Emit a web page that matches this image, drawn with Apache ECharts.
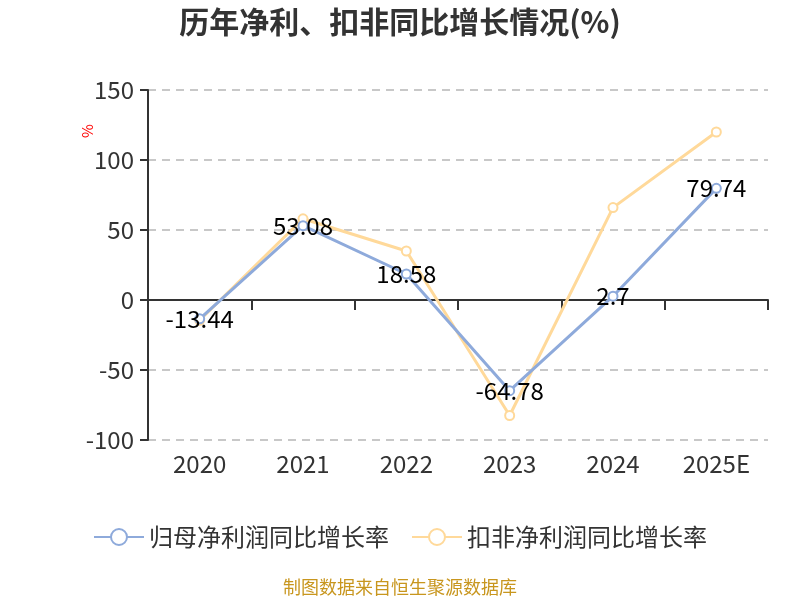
<!DOCTYPE html>
<html><head><meta charset="utf-8">
<script src="https://cdn.jsdelivr.net/npm/echarts@6/dist/echarts.min.js"></script>
<style>html,body{margin:0;padding:0;background:#fff}#c{width:800px;height:600px}</style>
</head><body><div id="c"></div>
<script>
var categories = ['2020','2021','2022','2023','2024','2025E'];
var netProfitGrowth = [-13.44, 53.08, 18.58, -64.78, 2.7, 79.74];
var deductedGrowth = [-14.5, 58, 35, -82.5, 66, 120];
var yTicks = {min: -100, max: 150, interval: 50};
var seriesNames = ['归母净利润同比增长率', '扣非净利润同比增长率'];
var FONT = '"Noto Sans CJK SC", "Noto Sans", sans-serif';
var chart = echarts.init(document.getElementById('c'));
chart.setOption({
  backgroundColor: '#fff',
  textStyle: {fontFamily: FONT},
  title: {text: '历年净利、扣非同比增长情况(%)', left: 'center', top: 2,
    textStyle: {fontSize: 30, fontWeight: 'bold', color: '#333', fontFamily: FONT}},
  legend: {bottom: 46, itemWidth: 50, itemHeight: 20, itemGap: 22,
    textStyle: {fontSize: 24, color: '#333', fontFamily: FONT},
    data: seriesNames},
  grid: {left: 148, right: 32, top: 90, bottom: 160},
  xAxis: [{
    type: 'category', data: categories, position: 'bottom',
    axisLine: {show: false, onZero: false}, axisTick: {show: false},
    axisLabel: {fontSize: 24, color: '#333', margin: 12, fontFamily: FONT}
  }, {
    type: 'category', data: categories, position: 'bottom',
    axisLine: {show: true, onZero: true, lineStyle: {color: '#333', width: 2}},
    axisTick: {show: true, length: 10, lineStyle: {color: '#333', width: 2}},
    axisLabel: {show: false}
  }],
  yAxis: {
    type: 'value', min: yTicks.min, max: yTicks.max, interval: yTicks.interval,
    axisLine: {show: true, lineStyle: {color: '#333', width: 2}},
    axisTick: {show: true, length: 8, lineStyle: {color: '#333', width: 2}},
    axisLabel: {fontSize: 24, color: '#333', margin: 14, fontFamily: FONT},
    splitLine: {lineStyle: {type: [8, 6], color: '#c8c8c8', width: 2}}
  },
  graphic: [{type: 'text', x: 80, y: 138, rotation: Math.PI / 2,
      style: {text: '%', fill: '#ff0000', fontSize: 15, fontFamily: FONT}},
    {type: 'text', left: 'center', top: 578,
      style: {text: '制图数据来自恒生聚源数据库', fill: '#c8961e', fontSize: 18, fontFamily: FONT}}],
  series: [{
    name: seriesNames[0], type: 'line', xAxisIndex: 0, data: netProfitGrowth,
    symbol: 'emptyCircle', symbolSize: 9, z: 3,
    itemStyle: {color: '#8eaadb'}, lineStyle: {width: 3, color: '#8eaadb'},
    label: {show: true, position: 'inside', fontSize: 24, color: '#000', fontFamily: FONT}
  }, {
    name: seriesNames[1], type: 'line', xAxisIndex: 0, data: deductedGrowth,
    symbol: 'emptyCircle', symbolSize: 9, z: 2,
    itemStyle: {color: '#ffd99a'}, lineStyle: {width: 3, color: '#ffd99a'}
  }]
});
</script>
</body></html>
